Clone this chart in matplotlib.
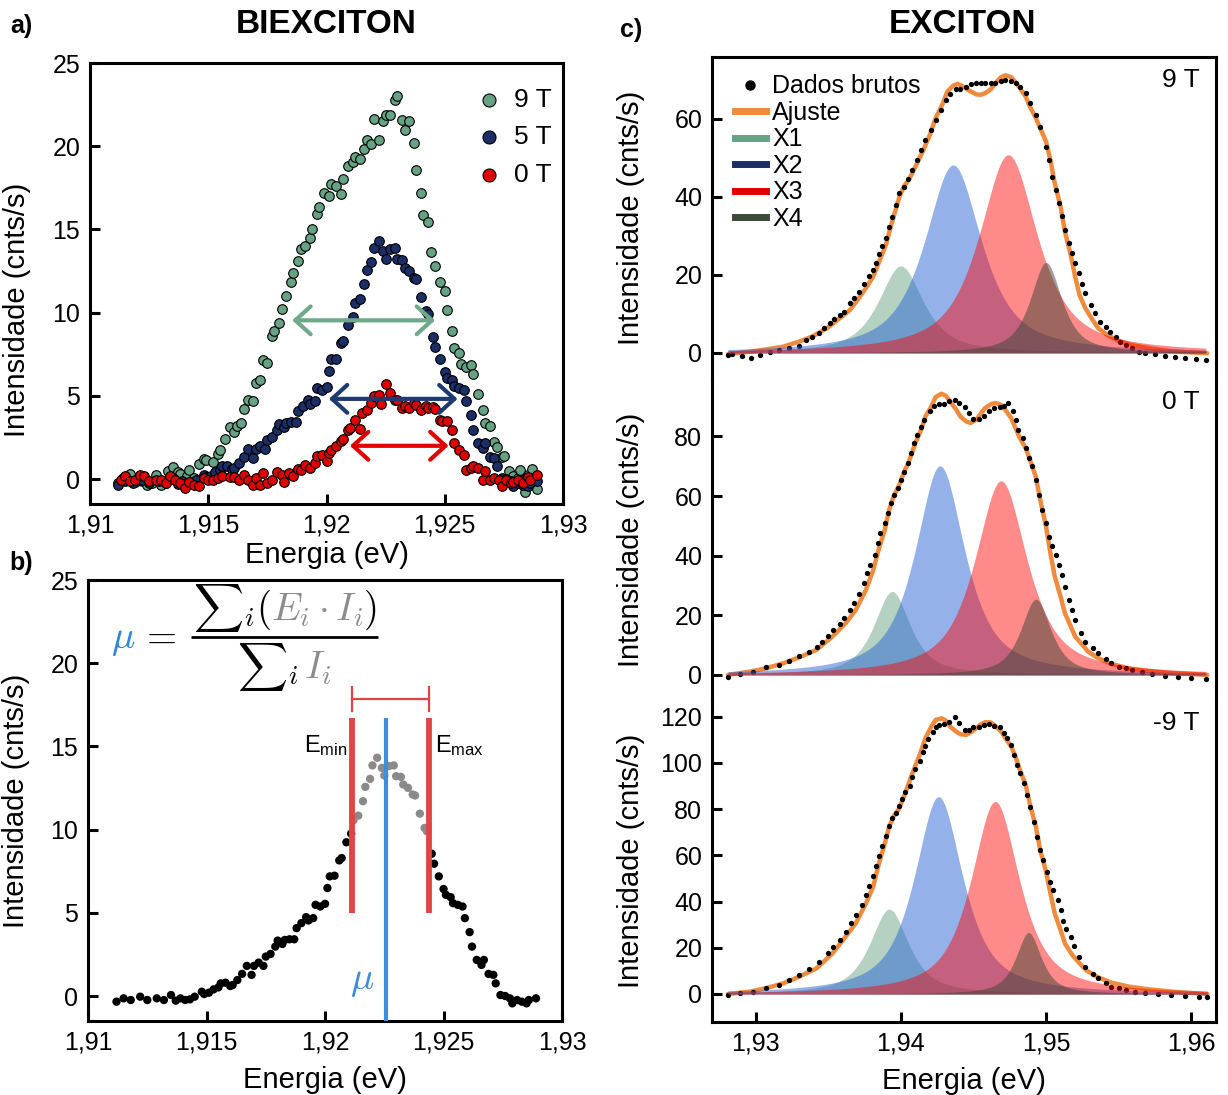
import matplotlib
matplotlib.use('Agg')
import matplotlib.pyplot as plt
import numpy as np
from matplotlib.lines import Line2D
from matplotlib.transforms import offset_copy
from matplotlib.ticker import FuncFormatter, FixedLocator
from matplotlib.patches import ArrowStyle

plt.rcParams['font.family'] = ['Liberation Sans', 'DejaVu Sans']
plt.rcParams['mathtext.fontset'] = 'custom'
plt.rcParams['mathtext.rm'] = 'Liberation Sans'
plt.rcParams['mathtext.it'] = 'Liberation Sans:italic'
plt.rcParams['mathtext.bf'] = 'Liberation Sans:bold'

# ---------------- Panel a / b data (biexciton) ----------------
E9 = [1.9112, 1.9114, 1.9117, 1.9119, 1.9122, 1.9124, 1.9126, 1.9128, 1.9130, 1.9133,
      1.9135, 1.9137, 1.9138, 1.9141, 1.9142, 1.9144, 1.9146, 1.9148, 1.9149, 1.9152,
      1.9154, 1.9155, 1.9157, 1.9159, 1.9161, 1.9162, 1.9164, 1.9165, 1.9167, 1.9169,
      1.9170, 1.9172, 1.9173, 1.9175, 1.9177, 1.9178, 1.9180, 1.9181, 1.9183, 1.9185,
      1.9186, 1.9188, 1.9189, 1.9191, 1.9193, 1.9194, 1.9196, 1.9197, 1.9199, 1.9201,
      1.9202, 1.9204, 1.9206, 1.9207, 1.9209, 1.9211, 1.9212, 1.9214, 1.9216, 1.9217,
      1.9219, 1.9220, 1.9222, 1.9224, 1.9225, 1.9227, 1.9229, 1.9230, 1.9232, 1.9233,
      1.9235, 1.9237, 1.9238, 1.9240, 1.9241, 1.9243, 1.9244, 1.9246, 1.9248, 1.9250,
      1.9251, 1.9253, 1.9254, 1.9256, 1.9257, 1.9259, 1.9261, 1.9262, 1.9264, 1.9266,
      1.9267, 1.9269, 1.9271, 1.9272, 1.9274, 1.9275, 1.9277, 1.9279, 1.9281, 1.9282,
      1.9284, 1.9285, 1.9287, 1.9289]
I9 = [-0.24, 0.06, 0.32, -0.18, -0.14, -0.34, -0.24, 0.26, -0.34, 0.46,
      0.72, 0.40, 0.32, 0.16, 0.56, 0.06, 0.92, 1.20, 1.12, 1.02,
      1.53, 1.77, 2.41, 3.13, 2.81, 3.17, 3.37, 4.22, 4.74, 4.68,
      5.78, 5.98, 7.15, 6.99, 8.59, 8.90, 9.36, 10.20, 11.00, 11.85,
      12.37, 13.11, 13.82, 13.98, 14.46, 15.02, 15.92, 16.33, 17.19, 17.03,
      17.73, 17.63, 17.13, 18.03, 18.84, 19.04, 19.38, 19.24, 19.84, 20.40,
      20.14, 21.61, 20.40, 21.49, 21.85, 21.89, 22.81, 23.05, 21.55, 21.00,
      21.49, 20.20, 18.59, 17.17, 15.88, 15.42, 13.67, 12.81, 11.85, 11.31,
      10.16, 8.90, 7.89, 7.55, 6.89, 6.75, 6.83, 6.29, 5.12, 4.14,
      3.37, 3.17, 2.21, 1.91, 1.33, 1.41, 0.46, 0.16, 0.06, 0.52,
      -0.80, 0.26, 0.62, -0.60]

E5 = [1.9112, 1.9115, 1.9118, 1.9122, 1.9125, 1.9129, 1.9132, 1.9135, 1.9137, 1.9139,
      1.9141, 1.9143, 1.9145, 1.9148, 1.9149, 1.9151, 1.9153, 1.9155, 1.9156, 1.9158,
      1.9160, 1.9161, 1.9163, 1.9165, 1.9167, 1.9169, 1.9170, 1.9172, 1.9174, 1.9175,
      1.9177, 1.9179, 1.9180, 1.9182, 1.9183, 1.9185, 1.9187, 1.9188, 1.9190, 1.9192,
      1.9193, 1.9195, 1.9196, 1.9198, 1.9200, 1.9201, 1.9202, 1.9204, 1.9206, 1.9207,
      1.9209, 1.9211, 1.9212, 1.9214, 1.9216, 1.9217, 1.9219, 1.9220, 1.9222, 1.9224,
      1.9225, 1.9227, 1.9229, 1.9230, 1.9232, 1.9233, 1.9235, 1.9237, 1.9238, 1.9240,
      1.9242, 1.9243, 1.9245, 1.9246, 1.9248, 1.9250, 1.9251, 1.9253, 1.9254, 1.9256,
      1.9258, 1.9259, 1.9261, 1.9262, 1.9264, 1.9266, 1.9267, 1.9269, 1.9271, 1.9272,
      1.9274, 1.9276, 1.9278, 1.9279, 1.9281, 1.9283, 1.9285, 1.9286, 1.9289]
I5 = [-0.34, -0.14, -0.24, -0.04, -0.24, -0.14, -0.24, 0.06, -0.28, -0.14,
      -0.24, -0.20, -0.04, 0.26, 0.12, 0.20, 0.40, 0.52, 0.76, 0.80,
      0.60, 0.66, 0.96, 1.33, 1.81, 1.27, 1.81, 2.01, 1.81, 2.37,
      2.53, 2.97, 3.33, 3.13, 3.37, 3.41, 3.41, 4.08, 4.38, 4.74,
      4.54, 4.68, 5.48, 5.38, 5.54, 6.49, 7.19, 7.23, 8.15, 8.29,
      9.24, 9.76, 10.56, 10.84, 11.71, 12.57, 13.05, 13.86, 14.32, 13.71,
      13.25, 13.82, 13.86, 13.21, 13.17, 12.71, 12.51, 12.11, 12.05, 10.96,
      10.10, 9.90, 8.55, 7.95, 7.19, 6.43, 6.08, 5.94, 5.58, 5.48,
      5.38, 4.68, 3.84, 2.97, 2.17, 1.87, 2.17, 1.33, 1.27, 0.76,
      0.06, 0.00, -0.14, -0.44, -0.24, -0.34, -0.44, -0.24, -0.14]

E0 = [1.9113, 1.9115, 1.9117, 1.9119, 1.9121, 1.9123, 1.9125, 1.9128, 1.9130, 1.9132,
      1.9134, 1.9136, 1.9138, 1.9140, 1.9142, 1.9144, 1.9146, 1.9148, 1.9150, 1.9152,
      1.9154, 1.9156, 1.9159, 1.9161, 1.9163, 1.9165, 1.9167, 1.9169, 1.9170, 1.9172,
      1.9173, 1.9175, 1.9177, 1.9179, 1.9181, 1.9182, 1.9184, 1.9186, 1.9188, 1.9189,
      1.9191, 1.9193, 1.9195, 1.9196, 1.9198, 1.9200, 1.9201, 1.9202, 1.9204, 1.9206,
      1.9207, 1.9209, 1.9210, 1.9212, 1.9214, 1.9215, 1.9217, 1.9219, 1.9220, 1.9222,
      1.9223, 1.9225, 1.9227, 1.9229, 1.9230, 1.9232, 1.9233, 1.9235, 1.9237, 1.9238,
      1.9240, 1.9242, 1.9243, 1.9245, 1.9246, 1.9248, 1.9249, 1.9251, 1.9253, 1.9254,
      1.9256, 1.9258, 1.9259, 1.9261, 1.9262, 1.9264, 1.9266, 1.9267, 1.9269, 1.9271,
      1.9273, 1.9274, 1.9276, 1.9278, 1.9279, 1.9281, 1.9283, 1.9285, 1.9286, 1.9289]
I0 = [-0.04, 0.16, -0.14, -0.04, 0.26, 0.16, -0.14, -0.04, -0.04, -0.24,
      0.16, -0.04, -0.24, -0.54, -0.20, -0.34, -0.44, 0.06, -0.04, -0.04,
      0.06, 0.20, 0.12, 0.12, -0.04, 0.26, -0.04, -0.34, 0.06, -0.34,
      0.36, -0.24, -0.04, 0.40, 0.26, -0.20, 0.36, 0.20, 0.60, 0.52,
      0.86, 0.66, 0.96, 1.37, 1.47, 1.06, 1.57, 1.77, 1.97, 2.27,
      2.41, 2.97, 3.07, 3.57, 3.01, 3.98, 4.18, 4.58, 4.98, 5.08,
      4.54, 5.74, 5.18, 4.78, 4.74, 4.28, 4.38, 4.28, 4.58, 4.48,
      4.18, 4.38, 4.28, 4.34, 4.22, 3.57, 3.47, 3.47, 2.93, 2.17,
      1.77, 1.47, 0.52, 0.66, 0.76, 0.66, -0.08, 0.46, -0.04, 0.06,
      -0.04, -0.44, -0.08, -0.24, -0.20, -0.04, -0.24, 0.12, -0.08, 0.26]

series_labels = ['9 T', '5 T', '0 T']
series_colors = ['#66a283', '#1b2e66', '#e00000']
arrow_colors = ['#6fa98b', '#1f3a6e', '#e00000']
arrow_y = [9.54, 4.82, 2.0]
arrow_x1 = [1.91855, 1.92010, 1.92099]
arrow_x2 = [1.92459, 1.92554, 1.92516]

E_min = 1.92114
E_max = 1.92438
mu_val = 1.92257

# ---------------- Panel c data (exciton) ----------------
fields = ['9 T', '0 T', '-9 T']

Ex9 = [1.9281, 1.9284, 1.9291, 1.9297, 1.9303, 1.9310, 1.9316, 1.9323, 1.9330, 1.9335,
       1.9339, 1.9344, 1.9347, 1.9351, 1.9354, 1.9358, 1.9361, 1.9365, 1.9368, 1.9371,
       1.9375, 1.9378, 1.9381, 1.9383, 1.9385, 1.9387, 1.9390, 1.9392, 1.9394, 1.9397,
       1.9399, 1.9402, 1.9405, 1.9408, 1.9411, 1.9414, 1.9417, 1.9421, 1.9424, 1.9428,
       1.9431, 1.9434, 1.9438, 1.9441, 1.9445, 1.9448, 1.9452, 1.9455, 1.9458, 1.9462,
       1.9465, 1.9469, 1.9472, 1.9476, 1.9479, 1.9482, 1.9486, 1.9489, 1.9493, 1.9496,
       1.9500, 1.9502, 1.9504, 1.9507, 1.9509, 1.9511, 1.9513, 1.9516, 1.9518, 1.9520,
       1.9523, 1.9525, 1.9527, 1.9531, 1.9534, 1.9537, 1.9541, 1.9544, 1.9548, 1.9551,
       1.9555, 1.9559, 1.9564, 1.9568, 1.9575, 1.9582, 1.9589, 1.9596, 1.9603, 1.9610]
Ix9 = [-0.5, -0.3, -0.8, -1.4, -0.5, 0.3, 0.8, 1.2, 1.8, 3.3,
       4.0, 5.0, 6.3, 7.6, 8.6, 9.7, 10.6, 12.7, 14.0, 15.7,
       17.8, 19.6, 21.3, 23.0, 25.4, 27.3, 29.4, 32.4, 34.9, 37.9,
       40.9, 42.6, 44.7, 46.8, 49.4, 52.0, 54.5, 57.1, 59.7, 62.2,
       64.8, 66.5, 67.6, 67.6, 68.2, 68.9, 69.3, 69.1, 69.1, 69.1,
       69.3, 69.8, 70.0, 69.8, 69.1, 68.1, 66.7, 64.0, 61.0, 57.9,
       52.9, 49.5, 45.2, 41.9, 38.5, 35.0, 31.6, 28.1, 25.6, 23.0,
       20.4, 17.8, 15.3, 12.3, 10.2, 8.0, 6.7, 5.4, 4.2, 2.9,
       2.1, 1.2, 0.3, -0.1, -0.3, -0.8, -1.1, -1.4, -1.6, -1.8]

Ex0 = [1.9281, 1.9289, 1.9298, 1.9307, 1.9316, 1.9323, 1.9330, 1.9337, 1.9342, 1.9346,
       1.9350, 1.9353, 1.9358, 1.9361, 1.9365, 1.9368, 1.9371, 1.9375, 1.9377, 1.9379,
       1.9382, 1.9384, 1.9386, 1.9389, 1.9391, 1.9393, 1.9395, 1.9398, 1.9400, 1.9402,
       1.9405, 1.9407, 1.9409, 1.9411, 1.9414, 1.9416, 1.9420, 1.9423, 1.9426, 1.9430,
       1.9433, 1.9437, 1.9440, 1.9444, 1.9447, 1.9450, 1.9454, 1.9457, 1.9461, 1.9464,
       1.9468, 1.9471, 1.9474, 1.9477, 1.9479, 1.9481, 1.9484, 1.9486, 1.9488, 1.9490,
       1.9493, 1.9495, 1.9497, 1.9500, 1.9502, 1.9504, 1.9507, 1.9509, 1.9511, 1.9513,
       1.9516, 1.9518, 1.9520, 1.9524, 1.9527, 1.9532, 1.9536, 1.9541, 1.9545, 1.9550,
       1.9555, 1.9559, 1.9566, 1.9573, 1.9582, 1.9591, 1.9600, 1.9610]
Ix0 = [-0.6, 0.3, 1.1, 2.6, 3.4, 4.8, 6.2, 7.8, 9.3, 11.2,
       12.9, 15.1, 17.1, 19.0, 21.8, 24.0, 27.1, 30.8, 34.1, 36.9,
       40.3, 44.2, 47.5, 50.9, 54.2, 57.6, 60.4, 62.6, 65.4, 68.2,
       71.0, 74.4, 77.7, 80.5, 83.3, 85.6, 88.4, 90.3, 90.8, 90.9,
       91.7, 92.1, 91.2, 89.8, 87.8, 85.8, 85.8, 86.7, 88.4, 89.5,
       90.0, 90.3, 91.2, 88.4, 85.6, 82.2, 79.5, 76.1, 72.7, 69.9,
       65.4, 60.4, 55.4, 50.9, 46.4, 43.1, 40.3, 36.9, 33.6, 29.6,
       25.2, 21.8, 18.5, 14.0, 11.2, 8.9, 7.3, 5.3, 3.9, 2.8,
       2.2, 1.7, 1.1, 0.3, -0.3, -0.8, -1.1, -1.5]

Exm9 = [1.9281, 1.9289, 1.9298, 1.9307, 1.9316, 1.9323, 1.9330, 1.9337, 1.9344, 1.9350,
        1.9353, 1.9358, 1.9362, 1.9366, 1.9369, 1.9373, 1.9376, 1.9378, 1.9381, 1.9383,
        1.9385, 1.9387, 1.9390, 1.9392, 1.9394, 1.9397, 1.9399, 1.9401, 1.9403, 1.9406,
        1.9408, 1.9410, 1.9413, 1.9415, 1.9417, 1.9419, 1.9422, 1.9424, 1.9426, 1.9430,
        1.9433, 1.9437, 1.9440, 1.9444, 1.9447, 1.9450, 1.9454, 1.9457, 1.9461, 1.9464,
        1.9468, 1.9471, 1.9473, 1.9476, 1.9478, 1.9480, 1.9482, 1.9485, 1.9487, 1.9489,
        1.9492, 1.9494, 1.9496, 1.9498, 1.9501, 1.9503, 1.9505, 1.9508, 1.9510, 1.9512,
        1.9514, 1.9517, 1.9519, 1.9523, 1.9527, 1.9532, 1.9536, 1.9541, 1.9545, 1.9550,
        1.9555, 1.9561, 1.9568, 1.9577, 1.9586, 1.9596, 1.9605, 1.9611]
Ixm9 = [-0.4, 0.3, 1.0, 2.5, 3.9, 6.1, 8.2, 10.7, 14.0, 17.6,
        20.2, 23.4, 27.0, 30.7, 34.3, 38.7, 43.0, 46.6, 50.9, 55.3,
        59.6, 64.0, 68.3, 72.6, 76.2, 78.5, 81.4, 84.3, 87.2, 90.0,
        93.7, 97.3, 100.9, 104.5, 107.4, 110.3, 113.2, 115.4, 116.2, 116.9,
        117.9, 119.8, 117.3, 114.3, 114.3, 115.7, 115.4, 116.4, 116.9, 116.0,
        115.7, 112.8, 110.7, 107.8, 103.5, 99.1, 95.5, 91.2, 86.1, 81.1,
        74.6, 68.0, 62.3, 57.9, 52.9, 48.5, 44.9, 40.6, 36.4, 31.7,
        28.1, 24.5, 20.9, 16.0, 11.7, 8.8, 6.8, 4.6, 3.2, 2.5,
        1.7, 1.0, 0.3, 0.0, -0.4, -0.9, -1.2, -1.2]

# fit curves (Ajuste)
Fx9 = [1.9281, 1.9296, 1.9307, 1.9319, 1.9330, 1.9339, 1.9349, 1.9358, 1.9365, 1.9371,
       1.9376, 1.9381, 1.9385, 1.9390, 1.9393, 1.9397, 1.9399, 1.9402, 1.9406, 1.9410,
       1.9415, 1.9420, 1.9424, 1.9429, 1.9432, 1.9436, 1.9439, 1.9442, 1.9447, 1.9452,
       1.9455, 1.9458, 1.9462, 1.9465, 1.9469, 1.9472, 1.9476, 1.9479, 1.9482, 1.9486,
       1.9489, 1.9493, 1.9496, 1.9500, 1.9503, 1.9506, 1.9510, 1.9513, 1.9517, 1.9520,
       1.9523, 1.9527, 1.9532, 1.9536, 1.9543, 1.9550, 1.9559, 1.9571, 1.9582, 1.9596, 1.9611]
Fy9 = [-0.3, 0.3, 0.9, 1.6, 2.9, 4.2, 6.3, 8.9, 11.0, 14.0,
       16.6, 19.6, 23.3, 28.0, 32.3, 37.4, 40.0, 42.6, 44.7, 47.7,
       51.6, 55.9, 60.2, 64.0, 67.0, 68.5, 69.0, 68.5, 67.3, 66.3,
       66.2, 66.6, 67.6, 69.1, 70.7, 71.2, 70.7, 69.4, 67.9, 65.7,
       63.1, 60.2, 57.6, 54.2, 49.5, 43.5, 37.5, 31.1, 25.1, 19.6,
       14.9, 11.5, 8.5, 6.3, 4.4, 3.1, 2.0, 1.2, 0.6, 0.2, -0.1]

Fx0 = [1.9281, 1.9296, 1.9307, 1.9319, 1.9330, 1.9342, 1.9353, 1.9362, 1.9369, 1.9376,
       1.9381, 1.9385, 1.9389, 1.9392, 1.9395, 1.9399, 1.9402, 1.9406, 1.9410, 1.9414,
       1.9417, 1.9421, 1.9424, 1.9428, 1.9431, 1.9434, 1.9438, 1.9441, 1.9445, 1.9448,
       1.9452, 1.9455, 1.9458, 1.9462, 1.9465, 1.9469, 1.9472, 1.9476, 1.9479, 1.9482,
       1.9486, 1.9489, 1.9493, 1.9496, 1.9500, 1.9503, 1.9506, 1.9510, 1.9513, 1.9517,
       1.9520, 1.9525, 1.9529, 1.9536, 1.9545, 1.9557, 1.9571, 1.9587, 1.9611]
Fy0 = [0.0, 1.1, 2.2, 3.9, 5.9, 8.4, 12.9, 17.3, 21.8, 28.5,
       35.2, 42.5, 48.7, 55.4, 59.8, 63.8, 67.7, 72.1, 77.7, 82.2,
       86.7, 90.0, 93.2, 94.3, 93.6, 91.7, 89.1, 86.7, 85.0, 84.5,
       85.6, 87.6, 89.5, 90.8, 91.2, 90.6, 88.9, 86.1, 82.8, 79.4,
       76.1, 72.1, 66.4, 58.7, 49.8, 40.8, 33.0, 26.3, 20.7, 16.3,
       12.9, 10.1, 7.8, 5.6, 3.7, 2.2, 1.3, 0.6, 0.0]

Fxm9 = [1.9281, 1.9296, 1.9307, 1.9319, 1.9330, 1.9342, 1.9353, 1.9362, 1.9369, 1.9376,
        1.9381, 1.9385, 1.9389, 1.9392, 1.9395, 1.9399, 1.9403, 1.9408, 1.9413, 1.9417,
        1.9421, 1.9424, 1.9428, 1.9431, 1.9434, 1.9438, 1.9441, 1.9445, 1.9448, 1.9452,
        1.9455, 1.9458, 1.9462, 1.9465, 1.9469, 1.9472, 1.9476, 1.9479, 1.9482, 1.9486,
        1.9489, 1.9493, 1.9496, 1.9500, 1.9503, 1.9506, 1.9510, 1.9513, 1.9518, 1.9523,
        1.9528, 1.9536, 1.9545, 1.9557, 1.9571, 1.9587, 1.9611]
Fym9 = [0.0, 1.0, 2.5, 4.6, 7.5, 11.1, 17.6, 24.8, 30.6, 39.2,
        46.5, 56.6, 65.2, 72.4, 76.8, 80.4, 86.9, 95.5, 103.5, 110.7,
        115.7, 118.6, 119.3, 118.3, 115.7, 113.6, 112.4, 112.1, 113.1, 115.0,
        116.7, 117.6, 117.5, 116.0, 113.6, 110.7, 107.1, 102.7, 96.9, 90.5,
        81.8, 72.4, 62.3, 52.9, 43.6, 34.9, 27.7, 21.9, 16.9, 13.3,
        10.1, 7.2, 4.9, 3.2, 2.0, 1.0, 0.0]

# fitted components X1..X4: centre (eV), amplitude (cnts/s), FWHM (eV)
comp_names = ['X1', 'X2', 'X3', 'X4']
cen9 = [1.9400, 1.9436, 1.9474, 1.9500]
amp9 = [22.3, 48.2, 50.8, 23.2]
wid9 = [0.0037, 0.0047, 0.0048, 0.0026]
cen0 = [1.9394, 1.9427, 1.9469, 1.9493]
amp0 = [28.0, 70.1, 65.1, 25.4]
wid0 = [0.0030, 0.0041, 0.0043, 0.0025]
cenm9 = [1.9392, 1.9426, 1.9465, 1.9488]
ampm9 = [36.7, 85.4, 83.3, 26.6]
widm9 = [0.0032, 0.0040, 0.0040, 0.0021]
eta_mix = 0.8

legend_colors = ['#66a283', '#1a2f66', '#e00000', '#3c4a38']
fill_colors = ['#6ba587', '#2b67d5', '#ff0000', '#3d4537']
fill_alphas = [0.5, 0.5, 0.46, 0.5]
fit_color = '#f08a3c'

ylims_c = [(-6.6, 75.9), (-8.5, 99.4), (-12.1, 127.1)]
yticks_c = [[0, 20, 40, 60], [0, 20, 40, 60, 80], [0, 20, 40, 60, 80, 100, 120]]


def comma(v, pos):
    return f"{round(v, 4):g}".replace('.', ',')


def pvoigt(x, c, a, w, eta):
    L = 1.0 / (1.0 + (2 * (x - c) / w) ** 2)
    G = np.exp(-4 * np.log(2) * ((x - c) / w) ** 2)
    return a * (eta * L + (1 - eta) * G)


SPW = 2.2
TICK_FS = 18
LAB_FS = 21


def style(ax):
    for s in ax.spines.values():
        s.set_linewidth(SPW)
    ax.tick_params(direction='in', length=7, width=SPW, labelsize=TICK_FS, pad=7)


fig = plt.figure(figsize=(12.28, 10.95), dpi=100)

# ---------------- Panel a ----------------
axA = fig.add_axes([0.0733, 0.5397, 0.3852, 0.4027])
style(axA)
for E, I, lab, col in zip([E9, E5, E0], [I9, I5, I0], series_labels, series_colors):
    axA.scatter(E, I, s=48, color=col, edgecolors='black', linewidths=0.8, label=lab, zorder=3)
for x1, x2, y, col in zip(arrow_x1, arrow_x2, arrow_y, arrow_colors):
    axA.annotate('', xy=(x2, y), xytext=(x1, y),
                 arrowprops=dict(arrowstyle=ArrowStyle('<->', head_length=1.1, head_width=1.0),
                                 color=col, lw=3, shrinkA=0, shrinkB=0, mutation_scale=10),
                 zorder=4)
axA.set_xlim(1.91, 1.93)
axA.set_ylim(-1.5, 25)
axA.xaxis.set_major_locator(FixedLocator([1.91, 1.915, 1.92, 1.925, 1.93]))
axA.xaxis.set_major_formatter(FuncFormatter(comma))
axA.set_yticks([0, 5, 10, 15, 20, 25])
axA.set_xlabel('Energia (eV)', fontsize=LAB_FS, labelpad=2)
axA.set_ylabel('Intensidade (cnts/s)', fontsize=LAB_FS)
axA.yaxis.set_label_coords(-0.125, 0.44)
axA.legend(loc='upper right', bbox_to_anchor=(1.015, 0.985), frameon=False, fontsize=19,
           markerscale=1.35, handletextpad=0.45, labelspacing=0.5, borderaxespad=0.3,
           handlelength=1.0)

# ---------------- Panel b ----------------
axB = fig.add_axes([0.0717, 0.0676, 0.386, 0.4027])
style(axB)
E5a = np.array(E5)
I5a = np.array(I5)
inside = (E5a >= E_min) & (E5a <= E_max)
axB.scatter(E5a[~inside], I5a[~inside], s=36, color='black', edgecolors='none', zorder=3)
axB.scatter(E5a[inside], I5a[inside], s=36, color='#8a8a8a', edgecolors='none', zorder=3)
axB.set_xlim(1.91, 1.93)
axB.set_ylim(-1.5, 25)
axB.xaxis.set_major_locator(FixedLocator([1.91, 1.915, 1.92, 1.925, 1.93]))
axB.xaxis.set_major_formatter(FuncFormatter(comma))
axB.set_yticks([0, 5, 10, 15, 20, 25])
axB.set_xlabel('Energia (eV)', fontsize=LAB_FS, labelpad=8)
axB.set_ylabel('Intensidade (cnts/s)', fontsize=LAB_FS)
axB.yaxis.set_label_coords(-0.122, 0.5)

red_line = '#e04545'
blue_line = '#3a8ddf'
axB.plot([E_min, E_min], [5.0, 16.7], color=red_line, lw=4.2, solid_capstyle='butt', zorder=4)
axB.plot([E_max, E_max], [5.0, 16.7], color=red_line, lw=4.2, solid_capstyle='butt', zorder=4)
axB.plot([mu_val, mu_val], [-1.5, 16.7], color=blue_line, lw=3, solid_capstyle='butt', zorder=4)
axB.plot([E_min, E_max], [17.85, 17.85], color=red_line, lw=1.6, zorder=4)
axB.plot([E_min, E_min], [17.15, 18.55], color=red_line, lw=1.6, zorder=4)
axB.plot([E_max, E_max], [17.15, 18.55], color=red_line, lw=1.6, zorder=4)
axB.text(E_min - 0.0002, 14.64, r'E$_{\mathrm{min}}$', fontsize=17, ha='right', va='baseline')
axB.text(E_max + 0.00024, 14.64, r'E$_{\mathrm{max}}$', fontsize=17, ha='left', va='baseline')
axB.text(1.92157, 0.4, r'$\mu$', fontsize=28, color=blue_line, ha='center', va='baseline',
         math_fontfamily='cm')

# formula
MF = 28
SF = 25
gray = '#8c8c8c'
renderer = fig.canvas.get_renderer()


def place_pieces(pieces, xc, yb):
    texts = []
    widths = []
    for s, c, fs in pieces:
        t = axB.text(xc, yb, s, color=c, fontsize=fs, ha='left', va='baseline', math_fontfamily='cm')
        widths.append(t.get_window_extent(renderer=renderer).width)
        texts.append(t)
    total = sum(widths)
    dx = -total / 2.0
    for t, w in zip(texts, widths):
        t.set_transform(offset_copy(axB.transData, fig=fig, x=dx, y=0, units='dots'))
        dx += w


bar_x = [1.91435, 1.92223]
bar_y = 21.57
xc = 0.5 * (bar_x[0] + bar_x[1])
place_pieces([(r'${\sum}$', 'black', SF), (r'$_i($', 'black', MF),
              (r'$E_i \cdot I_i$', gray, MF), (r'$)$', 'black', MF)], xc, 22.6)
place_pieces([(r'${\sum}$', 'black', SF), (r'$_i$', 'black', MF),
              (r'$\,I_i$', gray, MF)], xc, 19.1)
axB.plot(bar_x, [bar_y, bar_y], color='black', lw=2.0, solid_capstyle='butt')
axB.text(1.91097, 20.9, r'$\mu$', color='#2f86dc', fontsize=MF, ha='left', va='baseline',
         math_fontfamily='cm')
axB.text(1.91218, 20.9, r'$=$', color='black', fontsize=MF, ha='left', va='baseline',
         math_fontfamily='cm')

# ---------------- Panel c ----------------
bottoms = [0.6542, 0.3605, 0.0667]
dataE = [Ex9, Ex0, Exm9]
dataI = [Ix9, Ix0, Ixm9]
fitE = [Fx9, Fx0, Fxm9]
fitI = [Fy9, Fy0, Fym9]
cens = [cen9, cen0, cenm9]
amps = [amp9, amp0, ampm9]
wids = [wid9, wid0, widm9]

axesC = []
for k in range(3):
    ax = fig.add_axes([0.5798, bottoms[k], 0.4104, 0.2938])
    style(ax)
    axesC.append(ax)
    E = np.array(dataE[k])
    ax.plot(fitE[k], fitI[k], color=fit_color, lw=3.2, zorder=2, solid_capstyle='round')
    ax.plot(E, dataI[k], 'o', ms=3.8, color='black', mec='black', mew=0, zorder=3)
    xx = np.linspace(E.min(), E.max(), 800)
    for j in range(4):
        yy = pvoigt(xx, cens[k][j], amps[k][j], wids[k][j], eta_mix)
        ax.fill_between(xx, 0, yy, color=fill_colors[j], alpha=fill_alphas[j], lw=0, zorder=4)
    ax.set_xlim(1.927, 1.9617)
    ax.set_ylim(*ylims_c[k])
    ax.set_yticks(yticks_c[k])
    ax.xaxis.set_major_locator(FixedLocator([1.93, 1.94, 1.95, 1.96]))
    ax.xaxis.set_major_formatter(FuncFormatter(comma))
    ax.set_ylabel('Intensidade (cnts/s)', fontsize=LAB_FS)
    ax.yaxis.set_label_coords(-0.133, 0.5)
    ax.text(0.968, 0.928, fields[k], transform=ax.transAxes, ha='right', va='center', fontsize=19)
    if k < 2:
        ax.spines['bottom'].set_visible(False)
        ax.tick_params(bottom=False, labelbottom=False)
    if k > 0:
        ax.spines['top'].set_visible(False)

axesC[2].set_xlabel('Energia (eV)', fontsize=LAB_FS, labelpad=8)

handles = [Line2D([], [], marker='o', ls='none', color='black', markersize=6.5)]
handles.append(Line2D([], [], color=fit_color, lw=5))
for c in legend_colors:
    handles.append(Line2D([], [], color=c, lw=5))
labels = ['Dados brutos', 'Ajuste'] + comp_names
axesC[0].legend(handles, labels, loc='upper left', bbox_to_anchor=(0.02, 0.985), frameon=False,
                fontsize=18, handlelength=1.25, handletextpad=0.25, labelspacing=0.1,
                borderaxespad=0.3, borderpad=0.2)

# ---------------- titles and panel letters ----------------
fig.text(0.2655, 0.978, 'BIEXCITON', ha='center', va='center', fontsize=24, fontweight='bold')
fig.text(0.784, 0.978, 'EXCITON', ha='center', va='center', fontsize=24, fontweight='bold')
fig.text(0.008, 0.976, 'a)', ha='left', va='center', fontsize=18, fontweight='bold')
fig.text(0.008, 0.486, 'b)', ha='left', va='center', fontsize=18, fontweight='bold')
fig.text(0.505, 0.973, 'c)', ha='left', va='center', fontsize=18, fontweight='bold')

fig.savefig('out.png', dpi=100)
